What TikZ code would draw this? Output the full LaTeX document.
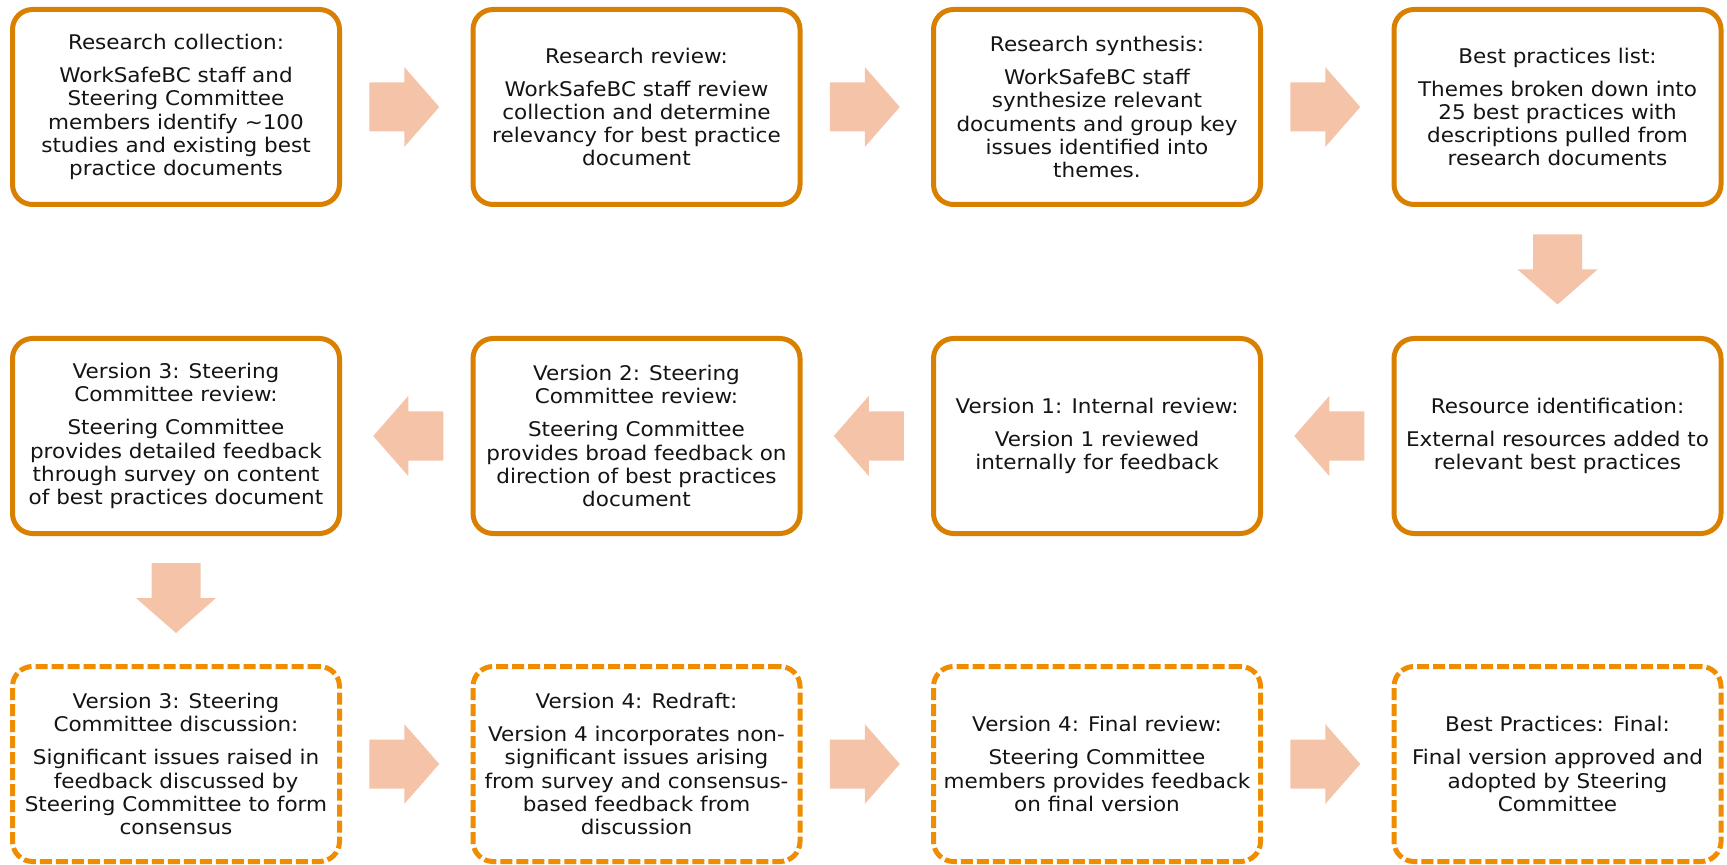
\documentclass[tikz,border=0pt]{standalone}
\usepackage{fontspec}
\setmainfont{DejaVu Sans}[FakeStretch=1.065]
\usetikzlibrary{calc}
\definecolor{solidc}{RGB}{217,128,0}
\definecolor{dashc}{RGB}{240,140,0}
\definecolor{arrowc}{RGB}{244,195,168}
\definecolor{textc}{RGB}{20,20,20}
\tikzset{
  stepbox/.style={draw=solidc, line width=2.5pt, rounded corners=10pt, fill=white,
    minimum width=163.5pt, minimum height=97.5pt, inner sep=0pt, align=center,
    text=textc, font=\fontsize{10.1pt}{11.6pt}\selectfont},
  dashbox/.style={stepbox, draw=dashc, dash pattern=on 6pt off 2pt},
  fatarrow/.pic={\fill[arrowc] (-35,-24.5) -- (0,-24.5) -- (0,-40) -- (35,0) -- (0,40) -- (0,24.5) -- (-35,24.5) -- cycle;}
}
\begin{document}
\begin{tikzpicture}[x=0.5pt,y=-0.5pt]
\useasboundingbox (0,0) rectangle (1727,865);
% row 1
\node[stepbox] (a1) at (176,107) {Research collection:\\[5pt]WorkSafeBC staff and\\Steering Committee\\members identify \textasciitilde100\\studies and existing best\\practice documents};
\node[stepbox] (a2) at (636.5,107) {Research review:\\[5pt]WorkSafeBC staff review\\collection and determine\\relevancy for best practice\\document};
\node[stepbox] (a3) at (1097,107) {Research synthesis:\\[5pt]WorkSafeBC staff\\synthesize relevant\\documents and group key\\issues identified into\\themes.};
\node[stepbox] (a4) at (1557.5,107) {Best practices list:\\[5pt]Themes broken down into\\25 best practices with\\descriptions pulled from\\research documents};
% row 2
\node[stepbox] (b1) at (176,436) {Version 3: Steering\\Committee review:\\[5pt]Steering Committee\\provides detailed feedback\\through survey on content\\of best practices document};
\node[stepbox] (b2) at (636.5,436) {Version 2: Steering\\Committee review:\\[5pt]Steering Committee\\provides broad feedback on\\direction of best practices\\document};
\node[stepbox] (b3) at (1097,436) {Version 1: Internal review:\\[5pt]Version 1 reviewed\\internally for feedback};
\node[stepbox] (b4) at (1557.5,436) {Resource identification:\\[5pt]External resources added to\\relevant best practices};
% row 3
\node[dashbox] (c1) at (176,764) {Version 3: Steering\\Committee discussion:\\[5pt]Significant issues raised in\\feedback discussed by\\Steering Committee to form\\consensus};
\node[dashbox] (c2) at (636.5,764) {Version 4: Redraft:\\[5pt]Version 4 incorporates non-\\significant issues arising\\from survey and consensus-\\based feedback from\\discussion};
\node[dashbox] (c3) at (1097,764) {Version 4: Final review:\\[5pt]Steering Committee\\members provides feedback\\on final version};
\node[dashbox] (c4) at (1557.5,764) {Best Practices: Final:\\[5pt]Final version approved and\\adopted by Steering\\Committee};
% arrows
\pic at ($(a1.east)!0.5!(a2.west)+(-2,0)$) {fatarrow};
\pic at ($(a2.east)!0.5!(a3.west)+(-2,0)$) {fatarrow};
\pic at ($(a3.east)!0.5!(a4.west)+(-2,0)$) {fatarrow};
\pic[rotate=-90] at ($(a4.south)!0.5!(b4.north)+(0,-2)$) {fatarrow};
\pic[rotate=180] at ($(b4.west)!0.5!(b3.east)+(2,0)$) {fatarrow};
\pic[rotate=180] at ($(b3.west)!0.5!(b2.east)+(2,0)$) {fatarrow};
\pic[rotate=180] at ($(b2.west)!0.5!(b1.east)+(2,0)$) {fatarrow};
\pic[rotate=-90] at ($(b1.south)!0.5!(c1.north)+(0,-2)$) {fatarrow};
\pic at ($(c1.east)!0.5!(c2.west)+(-2,0)$) {fatarrow};
\pic at ($(c2.east)!0.5!(c3.west)+(-2,0)$) {fatarrow};
\pic at ($(c3.east)!0.5!(c4.west)+(-2,0)$) {fatarrow};
\end{tikzpicture}
\end{document}
